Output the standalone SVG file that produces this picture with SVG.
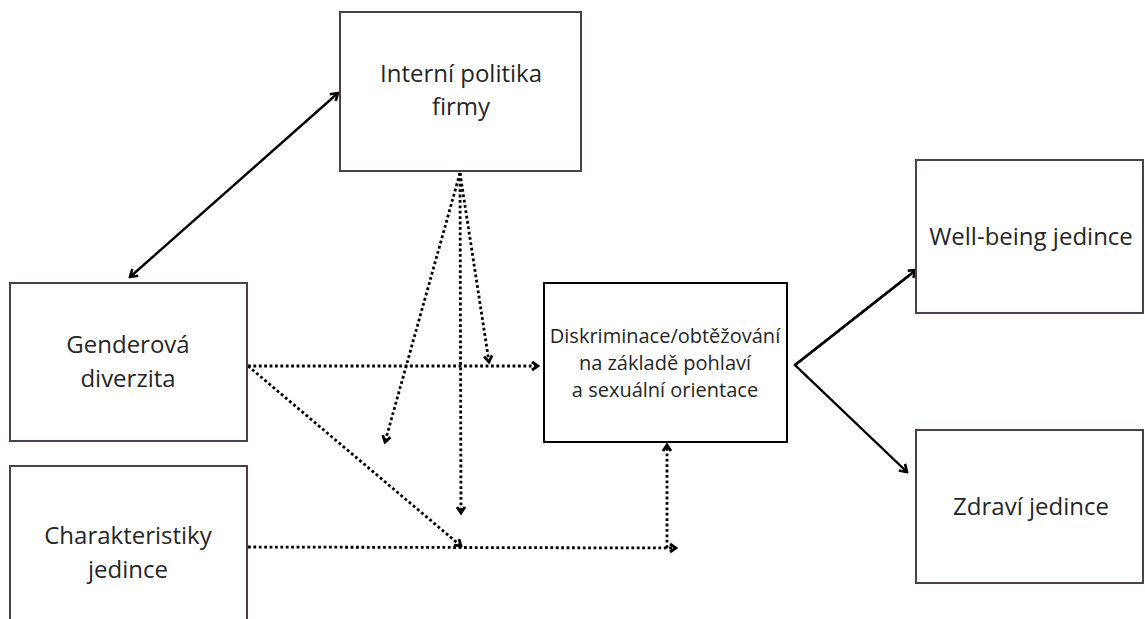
<svg xmlns="http://www.w3.org/2000/svg" width="1145" height="619" viewBox="0 0 1145 619">
<style>
  .box{fill:#fff;stroke:#4e3f4e;stroke-width:2}
  .box2{fill:#fff;stroke:#000;stroke-width:2}
  .t{font-family:"Open Sans","Noto Sans",sans-serif;font-size:24px;fill:#262626;text-anchor:middle}
  .ts{font-size:20px}
  .solid{fill:none;stroke:#000;stroke-width:2.4}
  .dot{fill:none;stroke:#000;stroke-width:2.8;stroke-dasharray:2.8 2.6}
</style>
<defs>
  <marker id="ah" markerUnits="userSpaceOnUse" viewBox="0 0 12 12" refX="10" refY="6" markerWidth="12" markerHeight="12" orient="auto-start-reverse">
    <path d="M3,1.5 L10,6 L3,10.5" fill="none" stroke="#000" stroke-width="2.6"/>
  </marker>
  <marker id="ad" markerUnits="userSpaceOnUse" viewBox="0 0 12 12" refX="10" refY="6" markerWidth="12" markerHeight="12" orient="auto">
    <path d="M4,2 L10,6 L4,10" fill="none" stroke="#000" stroke-width="2.8"/>
  </marker>
</defs>
<rect width="1145" height="619" fill="#fff"/>

<g id="connectors">
  <line class="solid" x1="130" y1="277" x2="338" y2="93" marker-start="url(#ah)" marker-end="url(#ah)"/>
  <polyline class="solid" points="916,270 795,365 907,472" marker-end="url(#ah)"/>
  <line class="solid" x1="795" y1="365" x2="916" y2="270" marker-end="url(#ah)"/>
  <line class="dot" x1="248" y1="366" x2="538" y2="366" marker-end="url(#ad)"/>
  <line class="dot" x1="248" y1="366" x2="461" y2="546" marker-end="url(#ad)"/>
  <line class="dot" x1="248" y1="547" x2="676" y2="548" marker-end="url(#ad)"/>
  <line class="dot" x1="667" y1="548" x2="667" y2="445" marker-end="url(#ad)"/>
  <line class="dot" x1="460" y1="173" x2="385" y2="442" marker-end="url(#ad)"/>
  <line class="dot" x1="460" y1="173" x2="461" y2="513" marker-end="url(#ad)"/>
  <line class="dot" x1="460" y1="173" x2="489" y2="362" marker-end="url(#ad)"/>
</g>

<g id="interni">
  <rect class="box" x="340" y="12" width="241" height="159"/>
  <text class="t" x="461" y="82">Interní politika</text>
  <text class="t" x="461" y="115">firmy</text>
</g>
<g id="genderova">
  <rect class="box" x="10" y="283" width="237" height="158"/>
  <text class="t" x="128" y="353">Genderová</text>
  <text class="t" x="128" y="387">diverzita</text>
</g>
<g id="charakteristiky">
  <rect class="box" x="10" y="466" width="237" height="170"/>
  <text class="t" x="128" y="544">Charakteristiky</text>
  <text class="t" x="128" y="578">jedince</text>
</g>
<g id="diskriminace">
  <rect class="box2" x="544" y="283" width="243" height="159"/>
  <text class="t ts" x="665" y="343">Diskriminace/obtěžování</text>
  <text class="t ts" x="665" y="370">na základě pohlaví</text>
  <text class="t ts" x="665" y="397">a sexuální orientace</text>
</g>
<g id="wellbeing">
  <rect class="box" x="916" y="160" width="227" height="153"/>
  <text class="t" x="1031" y="245">Well-being jedince</text>
</g>
<g id="zdravi">
  <rect class="box" x="916" y="430" width="227" height="153"/>
  <text class="t" x="1031" y="515">Zdraví jedince</text>
</g>
</svg>
